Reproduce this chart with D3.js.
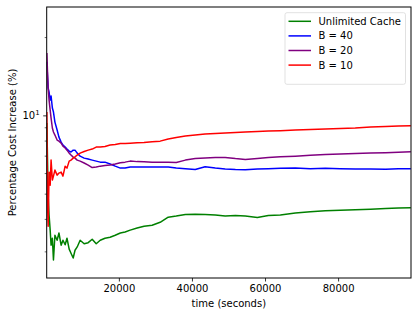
<!DOCTYPE html>
<html>
<head>
  <meta charset="utf-8">
  <script src="https://cdn.jsdelivr.net/npm/d3@7"></script>
  <style>
    body { margin: 0; background: #fff; }
    text { font-family: "DejaVu Sans", sans-serif; fill: #000; }
    .line { fill: none; stroke-width: 1.5; stroke-linejoin: round; }
  </style>
</head>
<body>
<script>
// time samples (seconds)
var times = [300, 450, 650, 900, 1200, 1450, 1800, 2100, 2500, 3100,
  3600, 4200, 4700, 5300, 5800, 6400, 6900, 7500, 8000, 8600,
  9400, 10500, 11600, 12700, 13800, 14900, 16200, 17600, 19000, 20400,
  21700, 23100, 25000, 26900, 29100, 31300, 33500, 35700, 38200, 40900,
  43600, 46400, 49100, 51900, 54600, 57900, 60900, 64200, 68300, 72400,
  76500, 80600, 84700, 88900, 93000, 96500, 99900];

// percentage cost increase for each series
var unlimited = [9.34, 7.0, 4.9, 4.14, 3.62, 3.17, 3.37, 2.78, 3.46, 3.31,
  3.53, 3.17, 3.31, 3.18, 3.37, 3.06, 2.95, 2.83, 3.03, 3.12,
  3.31, 3.21, 3.24, 3.34, 3.21, 3.31, 3.37, 3.40, 3.46, 3.53,
  3.56, 3.62, 3.69, 3.75, 3.78, 3.88, 4.06, 4.10, 4.16, 4.17,
  4.16, 4.14, 4.10, 4.12, 4.10, 4.05, 4.12, 4.14, 4.21, 4.26,
  4.30, 4.32, 4.34, 4.36, 4.38, 4.40, 4.41];

var b40 = [16.03, 14.29, 12.74, 12.29, 11.45, 11.86, 10.67, 10.30, 9.42, 8.78,
  8.25, 7.89, 7.69, 7.55, 7.42, 7.29, 7.23, 7.35, 7.35, 7.16,
  6.97, 6.85, 6.79, 6.73, 6.67, 6.61, 6.61, 6.50, 6.38, 6.27,
  6.27, 6.33, 6.33, 6.33, 6.33, 6.33, 6.33, 6.27, 6.24, 6.19,
  6.34, 6.27, 6.22, 6.19, 6.18, 6.22, 6.24, 6.26, 6.27, 6.24,
  6.26, 6.24, 6.22, 6.22, 6.21, 6.23, 6.23];

var b20 = [17.36, 14.94, 12.74, 11.45, 10.48, 9.76, 8.94, 8.63, 8.40, 8.04,
  7.96, 7.82, 7.62, 7.49, 7.35, 7.16, 7.04, 6.91, 6.85, 6.73,
  6.67, 6.56, 6.44, 6.30, 6.33, 6.38, 6.41, 6.44, 6.50, 6.57,
  6.61, 6.67, 6.64, 6.63, 6.61, 6.60, 6.61, 6.59, 6.73, 6.82,
  6.85, 6.88, 6.89, 6.82, 6.77, 6.82, 6.88, 6.93, 6.97, 7.02,
  7.07, 7.10, 7.13, 7.16, 7.19, 7.22, 7.24];

var b10 = [10.30, 4.72, 3.75, 6.05, 5.39, 6.73, 5.64, 5.84, 6.16, 5.89,
  6.00, 6.05, 5.84, 6.38, 6.27, 6.67, 6.73, 6.85, 6.93, 7.04,
  7.16, 7.26, 7.35, 7.42, 7.55, 7.55, 7.59, 7.69, 7.72, 7.79,
  7.80, 7.82, 7.85, 7.86, 7.92, 7.96, 8.11, 8.22, 8.33, 8.40,
  8.48, 8.52, 8.55, 8.59, 8.63, 8.67, 8.70, 8.73, 8.78, 8.82,
  8.86, 8.90, 8.94, 9.02, 9.06, 9.10, 9.12];

var seriesNames = ["Unlimited Cache", "B = 40", "B = 20", "B = 10"];
var seriesColors = ["green", "blue", "purple", "red"];
var seriesValues = [unlimited, b40, b20, b10];

var xTicks = [20000, 40000, 60000, 80000];
var yMajor = [10];
var yMinor = [3, 4, 5, 6, 7, 8, 9, 20];

// plot area
var margin = {top: 7, right: 5, bottom: 36, left: 46.7};
var W = 416, H = 314;
var width = W - margin.left - margin.right;
var height = H - margin.top - margin.bottom;

var svg = d3.select("body").append("svg")
    .attr("width", W)
    .attr("height", H);

var g = svg.append("g")
    .attr("transform", "translate(" + margin.left + "," + margin.top + ")");

var x = d3.scaleLinear().domain([250, 99950]).range([0, width]);
var y = d3.scaleLog().domain([2.37, 26.1]).range([height, 0]);

// lines
var line = d3.line()
    .x(function(d) { return x(d[0]); })
    .y(function(d) { return y(d[1]); });

g.append("clipPath").attr("id", "clip")
  .append("rect").attr("width", width).attr("height", height);

seriesValues.forEach(function(vals, i) {
  var pts = times.map(function(t, j) { return [t, vals[j]]; });
  g.append("path")
    .attr("class", "line")
    .attr("clip-path", "url(#clip)")
    .attr("stroke", seriesColors[i])
    .attr("d", line(pts));
});

// x axis
var xAxis = g.append("g")
    .attr("transform", "translate(0," + height + ")")
    .call(d3.axisBottom(x).tickValues(xTicks).tickFormat(d3.format("d"))
      .tickSize(3.5).tickPadding(3.5));
xAxis.select(".domain").remove();
xAxis.selectAll("text").style("font-size", "10px")
    .style("font-family", "DejaVu Sans");
xAxis.selectAll("line").attr("stroke-width", 0.8);

// y axis: major + minor ticks
var yAxis = g.append("g")
    .call(d3.axisLeft(y).tickValues(yMajor).tickFormat("").tickSize(3.5));
yAxis.select(".domain").remove();
yAxis.selectAll("line").attr("stroke-width", 0.8);

var yMin = g.append("g")
    .call(d3.axisLeft(y).tickValues(yMinor).tickFormat("").tickSize(2));
yMin.select(".domain").remove();
yMin.selectAll("line").attr("stroke-width", 0.6);

var lab = g.append("text")
    .attr("x", -7)
    .attr("y", y(10) + 3.6)
    .attr("text-anchor", "end")
    .style("font-size", "10px");
lab.append("tspan").text("10");
lab.append("tspan").attr("dy", -4).style("font-size", "7px").text("1");

// frame
g.append("rect")
    .attr("width", width)
    .attr("height", height)
    .attr("fill", "none")
    .attr("stroke", "#000")
    .attr("stroke-width", 1);

// axis labels
svg.append("text")
    .attr("x", margin.left + width / 2)
    .attr("y", 306.5)
    .attr("text-anchor", "middle")
    .style("font-size", "10px")
    .text("time (seconds)");

svg.append("text")
    .attr("transform", "translate(16," + (margin.top + height / 2) + ") rotate(-90)")
    .attr("text-anchor", "middle")
    .style("font-size", "10px")
    .text("Percentage Cost Increase (%)");

// legend
var leg = svg.append("g").attr("transform", "translate(285,12.7)");
leg.append("rect")
    .attr("width", 120.5)
    .attr("height", 71.6)
    .attr("rx", 2)
    .attr("fill", "#fff")
    .attr("fill-opacity", 0.8)
    .attr("stroke", "#d9d9d9")
    .attr("stroke-width", 0.8);

seriesNames.forEach(function(name, i) {
  var cy = 8.6 + i * 14.6;
  leg.append("line")
    .attr("x1", 3.5).attr("x2", 26)
    .attr("y1", cy).attr("y2", cy)
    .attr("stroke", seriesColors[i])
    .attr("stroke-width", 1.5);
  leg.append("text")
    .attr("x", 33.5)
    .attr("y", cy + 3.6)
    .style("font-size", "10px")
    .text(name);
});
</script>
</body>
</html>
